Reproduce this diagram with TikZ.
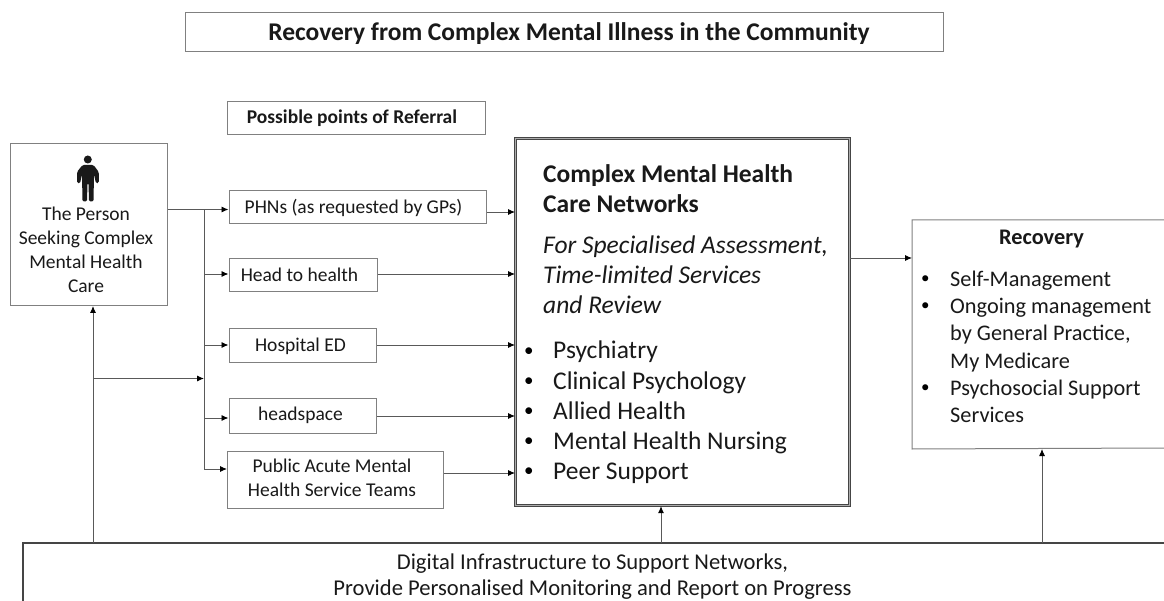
\documentclass[tikz,border=0pt]{standalone}
\usepackage{fontspec}
\setmainfont{Carlito}
\usetikzlibrary{arrows.meta}
\definecolor{boxline}{gray}{0.5}
\definecolor{darkline}{gray}{0.27}
\definecolor{arrline}{gray}{0.35}
\tikzset{
  x=1pt,y=-1pt,
  plainbox/.style={draw=boxline,line width=1pt,fill=white,inner sep=0pt,anchor=north west,align=center},
  arr/.style={draw=arrline,line width=0.9pt,-{Latex[length=7pt,width=6pt,black]}},
  link/.style={draw=arrline,line width=0.9pt},
  txt/.style={font=\fontsize{19.5}{24}\selectfont,inner sep=0pt,text=black!90},
  big/.style={font=\fontsize{25.5}{28}\selectfont,inner sep=0pt,anchor=base west,text=black!90},
  rec/.style={font=\fontsize{22.3}{25}\selectfont,inner sep=0pt,anchor=base west,text=black!90},
  bigdot/.style={font=\fontsize{19}{20}\selectfont,inner sep=0pt,anchor=base west,text=black},
  recdot/.style={font=\fontsize{17}{18}\selectfont,inner sep=0pt,anchor=base west,text=black},
}
\begin{document}
\begin{tikzpicture}
\useasboundingbox (0,0) rectangle (1164,601);
% rows
\coordinate (rphn) at (0,209.5);
\coordinate (rphnb) at (0,212);
\coordinate (rhead) at (0,274);
\coordinate (rhosp) at (0,345);
\coordinate (rmid) at (0,378.5);
\coordinate (rhs) at (0,418);
\coordinate (rhsb) at (0,416);
\coordinate (rpub) at (0,469);
\coordinate (rpubb) at (0,473);
\coordinate (rrec) at (0,258);
\coordinate (cbranch) at (204,0);
\coordinate (cup) at (93,0);
\coordinate (cbig) at (661,0);
\coordinate (crec) at (1042,0);
% boxes
\node[plainbox,minimum width=758pt,minimum height=39pt] (title) at (185,12) {};
\node[font=\bfseries\fontsize{25.5}{28}\selectfont,inner sep=0pt,text=black!90] (titletext) at (569,33.5) {Recovery from Complex Mental Illness in the Community};
\node[plainbox,minimum width=258pt,minimum height=33pt] (poss) at (227,101) {};
\node[txt,font=\bfseries\fontsize{19.5}{22}\selectfont] (posstext) at (352,118) {Possible points of Referral};
\node[plainbox,minimum width=157pt,minimum height=162pt] (person) at (10,143) {};
\node[txt,align=center] (persontext) at (86,249.5) {The Person\\Seeking Complex\\Mental Health\\Care};
\node[plainbox,minimum width=257.5pt,minimum height=33pt] (phn) at (228.5,190) {};
\node[txt] (phntext) at (353.5,207.5) {PHNs (as requested by GPs)};
\node[plainbox,minimum width=148pt,minimum height=33pt] (head) at (228.5,258) {};
\node[txt] (headtext) at (299.5,274.5) {Head to health};
\node[plainbox,minimum width=147.5pt,minimum height=34pt] (hosp) at (228.5,328) {};
\node[txt] (hosptext) at (300.5,346) {Hospital ED};
\node[plainbox,minimum width=147.5pt,minimum height=35pt] (hs) at (228.5,398) {};
\node[txt] (hstext) at (300.5,415.5) {headspace};
\node[plainbox,minimum width=216pt,minimum height=57pt] (pub) at (227,451) {};
\node[txt,align=center] (pubtext) at (332,477.5) {Public Acute Mental\\Health Service Teams};
% big box
\node[plainbox,draw=darkline,double=gray!65,double distance=1pt,line width=1.1pt,minimum width=334pt,minimum height=367pt] (bigbox) at (515,138) {};
\node[big,font=\bfseries\fontsize{25.5}{28}\selectfont] (b1) at (543,183) {Complex Mental Health};
\node[big,font=\bfseries\fontsize{25.5}{28}\selectfont] (b2) at (543,213) {Care Networks};
\node[big,font=\itshape\fontsize{25.5}{28}\selectfont] (b3) at (543,254) {For Specialised Assessment,};
\node[big,font=\itshape\fontsize{25.5}{28}\selectfont] (b4) at (543,284) {Time-limited Services};
\node[big,font=\itshape\fontsize{25.5}{28}\selectfont] (b5) at (543,314) {and Review};
\foreach \t/\ty/\dy/\n in {Psychiatry/359/356/1,Clinical Psychology/389.5/386.5/2,Allied Health/419.5/416.5/3,Mental Health Nursing/449.5/446.5/4,Peer Support/479.5/476.5/5}{
  \node[big] (li\n) at (553,\ty) {\t};
  \node[bigdot] (lb\n) at (523.8,\dy) {•};
}
% recovery
\node[plainbox,draw=none,minimum width=252pt,minimum height=228pt] (recov) at (912,220) {};
\draw[draw=boxline,line width=1pt] (1164,220) -- (recov.north west) -- (recov.south west) -- (1164,448);
\node[rec,font=\bfseries\fontsize{22.3}{25}\selectfont,anchor=center] (rt) at (1041.5,239) {Recovery};
\foreach \t/\ty/\n in {Self-Management/287/1,Ongoing management/314/2,{by General Practice,}/341/3,My Medicare/368/4,Psychosocial Support/395/5,Services/422/6}{
  \node[rec] (rl\n) at (950,\ty) {\t};
}
\foreach \ty/\n in {284/1,311/2,392/5}{\node[recdot] (rb\n) at (920.8,\ty) {•};}
% digital
\coordinate (dl) at (23,601);
\coordinate (dt) at (23,543);
\coordinate (dr) at (1164,543);
\draw[draw=darkline,line width=2.4pt] (dl) -- (dt) -- (dr);
\node[font=\fontsize{22.6}{26}\selectfont,align=center,inner sep=0pt,text=black!90] (dtext) at (592.5,576.5) {Digital Infrastructure to Support Networks,\\Provide Personalised Monitoring and Report on Progress};
% icon
\fill[black!90] (87.8,159.5) circle (4);
\fill[black!90,rounded corners=1.5pt] (82.5,165) -- (93.5,165) -- (98.8,172) -- (98.8,183) -- (96,183.5) -- (94,174.5) -- (93.5,201.5) -- (89,201.5) -- (88.5,183) -- (87.5,183) -- (87,201.5) -- (82.5,201.5) -- (82,174.5) -- (80,183.5) -- (77,183) -- (77,172) -- cycle;
% connectors
\draw[arr] (person.east |- rphn) -- (phn.west |- rphn);
\draw[link] (cbranch |- rphn) -- (cbranch |- rpub);
\draw[arr] (cbranch |- rhead) -- (head.west |- rhead);
\draw[arr] (cbranch |- rhosp) -- (hosp.west |- rhosp);
\draw[arr] (cbranch |- rhs) -- (hs.west |- rhs);
\draw[arr] (cbranch |- rpub) -- (pub.west |- rpub);
\draw[arr] (cup |- rmid) -- (cbranch |- rmid);
\draw[arr] (cup |- dt) -- (cup |- person.south);
\draw[arr] (phn.east |- rphnb) -- (bigbox.west |- rphnb);
\draw[arr] (head.east |- rhead) -- (bigbox.west |- rhead);
\draw[arr] (hosp.east |- rhosp) -- (bigbox.west |- rhosp);
\draw[arr] (hs.east |- rhsb) -- (bigbox.west |- rhsb);
\draw[arr] (pub.east |- rpubb) -- (bigbox.west |- rpubb);
\draw[arr] (bigbox.east |- rrec) -- (recov.west |- rrec);
\draw[arr] (cbig |- dt) -- (cbig |- bigbox.south);
\draw[arr] (crec |- dt) -- (crec |- recov.south);
\end{tikzpicture}
\end{document}
